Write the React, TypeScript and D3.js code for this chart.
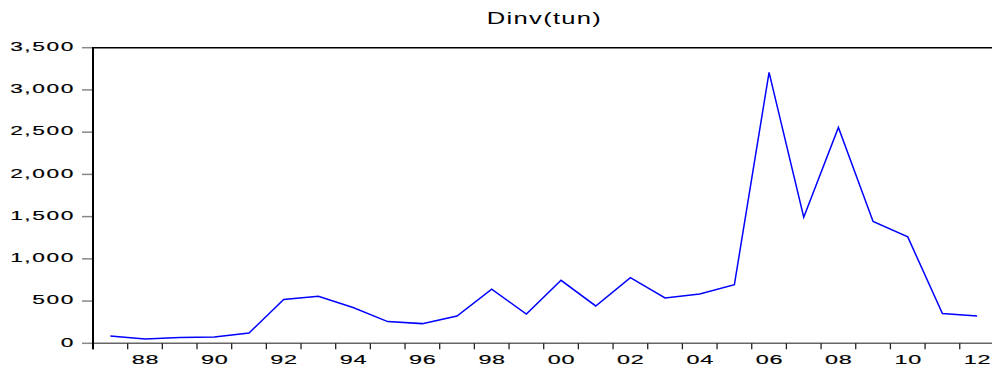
import React from "react";
import * as d3 from "d3";

const years: number[] = [
  1987, 1988, 1989, 1990, 1991, 1992, 1993, 1994, 1995, 1996, 1997, 1998, 1999,
  2000, 2001, 2002, 2003, 2004, 2005, 2006, 2007, 2008, 2009, 2010, 2011, 2012,
];
const dinv: number[] = [
  87, 51, 68, 75, 122, 518, 557, 423, 257, 233, 323, 640, 347,
  746, 442, 778, 537, 584, 695, 3208, 1493, 2556, 1442, 1260, 352, 323,
];
const yTicks: number[] = [0, 500, 1000, 1500, 2000, 2500, 3000, 3500];
const xLabelYears: number[] = [1988, 1990, 1992, 1994, 1996, 1998, 2000, 2002, 2004, 2006, 2008, 2010, 2012];
const title = "Dinv(tun)";

export default function App() {
  const W = 992;
  const H = 369;
  const left = 93;
  const x = d3.scaleLinear().domain([1987, 2013]).range([left, left + 26 * 34.67]);
  const y = d3.scaleLinear().domain([0, 3500]).range([343.3, 47.7]);
  const bottom = y(0);
  const top = y(3500);

  const line = d3
    .line<number>()
    .x((_, i) => x(years[i] + 0.5))
    .y((d) => y(d));

  const fmt = d3.format(",");
  const tickYears = d3.range(1987, 2014);

  return (
    <svg
      width={W}
      height={H}
      style={{ position: "absolute", left: 0, top: 0, background: "#fff" }}
      fontFamily="'Liberation Sans', Arial, sans-serif"
    >
      <rect x={0} y={0} width={W} height={H} fill="#fff" />
      {/* title */}
      <text
        transform={`translate(${544.5},${24}) scale(1.6,1)`}
        textAnchor="middle"
        fontSize={16}
        letterSpacing={0.8}
        fill="#000"
      >
        {title}
      </text>

      {/* top border */}
      <line x1={left} x2={W + 5} y1={top} y2={top} stroke="#000" strokeWidth={1.5} />

      {/* y ticks */}
      {yTicks.map((t) => (
        <g key={t}>
          <line x1={82} x2={left} y1={y(t)} y2={y(t)} stroke="#888" strokeWidth={1.5} />
          <text
            transform={`translate(${74.9},${y(t) + 3.3}) scale(1.75,1)`}
            textAnchor="end"
            fontSize={13}
            letterSpacing={0.9}
            fill="#000"
            stroke="#000"
            strokeWidth={0.15}
          >
            {fmt(t)}
          </text>
        </g>
      ))}

      {/* bottom axis */}
      <line x1={left} x2={W + 5} y1={bottom} y2={bottom} stroke="#666" strokeWidth={1.6} />
      {tickYears.map((yr) => (
        <line
          key={yr}
          x1={x(yr)}
          x2={x(yr)}
          y1={bottom}
          y2={bottom + 6}
          stroke="#222"
          strokeWidth={1.3}
        />
      ))}
      {xLabelYears.map((yr) => (
        <text
          key={yr}
          transform={`translate(${x(yr + 0.5) + 0.4},${364}) scale(1.8,1)`}
          textAnchor="middle"
          fontSize={13}
          letterSpacing={0.4}
          fill="#000"
          stroke="#000"
          strokeWidth={0.15}
        >
          {String(yr % 100).padStart(2, "0")}
        </text>
      ))}

      {/* left axis */}
      <line x1={left} x2={left} y1={top - 0.7} y2={bottom + 6} stroke="#000" strokeWidth={2} />

      {/* data line */}
      <path d={line(dinv) || ""} fill="none" stroke="#0000ff" strokeWidth={1.5} />
    </svg>
  );
}
